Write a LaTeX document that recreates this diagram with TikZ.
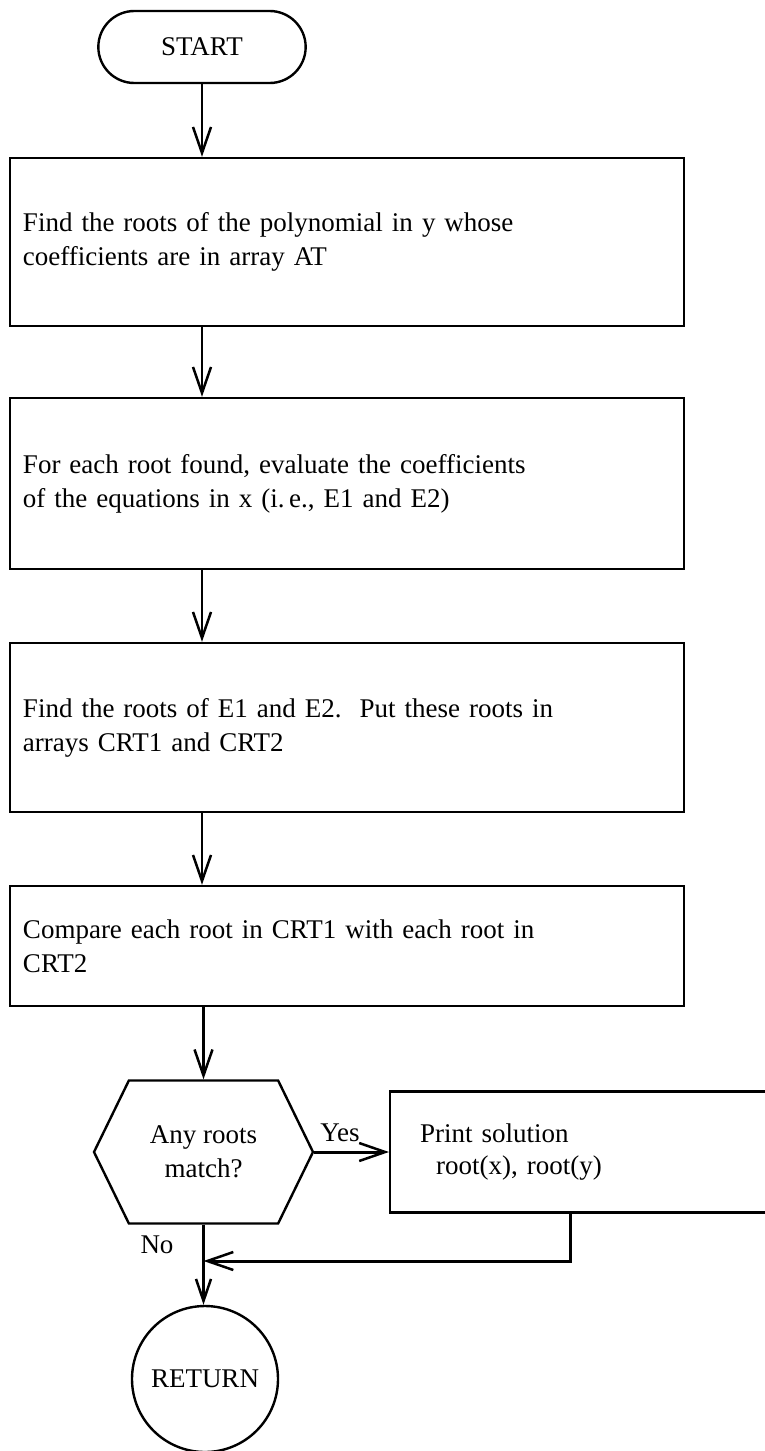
\documentclass[tikz,border=0pt]{standalone}
\usepackage{fontspec}
\setmainfont{Liberation Serif}
\usetikzlibrary{arrows.meta,shapes.misc,shapes.symbols}

\begin{document}
\begin{tikzpicture}[x=1pt,y=-1pt,
  every node/.style={font=\fontsize{27}{34}\selectfont},
  flow/.style={draw,line width=2.4pt},
  procbox/.style={flow,rectangle,minimum width=674pt,text width=648pt,
    align=left,inner xsep=13pt},
  arr/.style={line width=2.5pt,
    -{Straight Barb[length=26pt,width=18pt,line width=2.5pt]}},
  smallarr/.style={line width=2.5pt,
    -{Straight Barb[length=22pt,width=15pt,line width=2.5pt]}},
  label/.style={inner sep=0pt},
]
\useasboundingbox (0,0) rectangle (765,1451);
\clip (0,0) rectangle (765,1451);

% x position of the main vertical flow line
\coordinate (spine) at (202,0);

% terminal and process boxes
\node[flow,rounded rectangle,minimum width=214pt,minimum height=72pt]
  (start) at (202,47) {START};
\node[procbox,minimum height=168pt] (b1) at (347,242)
  {Find the roots of the polynomial in y whose\\coefficients are in array AT};
\node[procbox,minimum height=171pt] (b2) at (347,483.5)
  {For each root found, evaluate the coefficients\\of the equations in x (i.\,e., E1 and E2)};
\node[procbox,minimum height=169pt] (b3) at (347,727.5)
  {Find the roots of E1 and E2.\ \ Put these roots in\\arrays CRT1 and CRT2};
\node[procbox,minimum height=120pt] (b4) at (347,946)
  {Compare each root in CRT1 with each root in\\CRT2};

% decision
\node[flow,signal,signal to=west and east,signal pointer angle=128,
  minimum width=219pt,minimum height=143pt,align=center,inner sep=2pt]
  (hex) at (203.5,1152) {Any roots\\match?};

% output box (runs off the right edge)
\node[flow,rectangle,anchor=west,minimum height=121pt,text width=345pt,
  inner xsep=30pt,align=left] (print) at (389,1152)
  {Print solution\\[-2pt]\hspace*{16pt}root(x), root(y)};

% return terminal
\node[flow,circle,minimum size=146pt,inner sep=0pt] (ret) at (205,1379) {RETURN};

% branch labels
\node[label] (yes) at (340,1133) {Yes};
\node[label] (no) at (157,1245) {No};

% connectors
\draw[arr] (start.south -| spine) -- (b1.north -| spine);
\draw[arr] (b1.south -| spine) -- (b2.north -| spine);
\draw[arr] (b2.south -| spine) -- (b3.north -| spine);
\draw[arr] (b3.south -| spine) -- (b4.north -| spine);
\draw[arr] (b4.south -| hex.north) -- (hex.north);
\draw[arr,line width=3pt] (hex.east) -- (print.west);
\coordinate (join) at (203.5,1261);
\draw[smallarr] (hex.south) -- (hex.south |- ret.north);
\draw[arr,line width=3pt] ([xshift=181pt]print.south west) |- (join);
\end{tikzpicture}
\end{document}
